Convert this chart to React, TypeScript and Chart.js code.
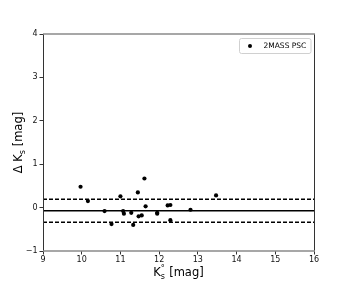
import React, { useEffect, useRef } from "react";
import { Chart, registerables } from "chart.js";

Chart.register(...registerables);

const kMag = [9.97, 10.16, 10.59, 10.77, 11.0, 11.07, 11.09, 11.28, 11.33, 11.45, 11.47, 11.55, 11.62, 11.65, 11.95, 11.95, 12.22, 12.29, 12.29, 12.81, 13.47];
const deltaK = [0.48, 0.15, -0.08, -0.38, 0.26, -0.08, -0.14, -0.12, -0.4, 0.35, -0.2, -0.18, 0.67, 0.03, -0.12, -0.14, 0.05, 0.06, -0.29, -0.05, 0.28];
const meanOffset = -0.075;
const upperBound = 0.195;
const lowerBound = -0.34;
const xRange = [9, 16];
const yRange = [-1, 4];
const legendLabel = "2MASS PSC";

const FONT = "'DejaVu Sans', sans-serif";

const decorPlugin = {
  id: "decor",
  afterDraw(chart: any) {
    const { ctx, chartArea } = chart;
    const { left, right, top, bottom } = chartArea;
    ctx.save();
    // frame
    ctx.strokeStyle = "#333";
    ctx.lineWidth = 1;
    ctx.beginPath();
    ctx.moveTo(Math.round(left) + 0.5, top);
    ctx.lineTo(Math.round(left) + 0.5, bottom);
    ctx.moveTo(Math.round(right) + 0.5, top);
    ctx.lineTo(Math.round(right) + 0.5, bottom);
    ctx.stroke();
    ctx.strokeStyle = "#8a8a8a";
    ctx.lineWidth = 1.5;
    ctx.beginPath();
    ctx.moveTo(left, top);
    ctx.lineTo(right + 1, top);
    ctx.moveTo(left, bottom);
    ctx.lineTo(right + 1, bottom);
    ctx.stroke();

    // legend
    const lx = 239.5, ly = 38.5, lw = 71.5, lh = 15;
    ctx.fillStyle = "rgba(255,255,255,0.8)";
    ctx.strokeStyle = "#d0d0d0";
    ctx.lineWidth = 1;
    ctx.beginPath();
    (ctx as any).roundRect(lx, ly, lw, lh, 2);
    ctx.fill();
    ctx.stroke();
    ctx.fillStyle = "#000";
    ctx.beginPath();
    ctx.arc(250, ly + lh / 2, 2, 0, Math.PI * 2);
    ctx.fill();
    ctx.font = `7.5px ${FONT}`;
    ctx.textBaseline = "middle";
    ctx.textAlign = "left";
    ctx.fillText(legendLabel, 263.5, ly + lh / 2 + 0.5);

    // x title: K (sup °, sub s) [mag]
    const big = `11.5px ${FONT}`;
    const small = `8px ${FONT}`;
    ctx.font = big;
    const wK = ctx.measureText("K").width;
    const wRest = ctx.measureText(" [mag]").width;
    ctx.font = small;
    const wS = ctx.measureText("s").width;
    const total = wK + wS + 0.5 + wRest;
    const cx = (left + right) / 2;
    let x0 = cx - total / 2;
    const baseY = 276;
    ctx.textBaseline = "alphabetic";
    ctx.font = big;
    ctx.fillText("K", x0, baseY);
    ctx.font = small;
    ctx.fillText("s", x0 + wK, baseY + 2.5);
    ctx.fillText("°", x0 + wK, baseY - 5);
    ctx.font = big;
    ctx.fillText(" [mag]", x0 + wK + wS + 0.5, baseY);

    // y title rotated: Δ K_s [mag]
    ctx.font = big;
    const wA = ctx.measureText("Δ K").width;
    const wB = ctx.measureText(" [mag]").width;
    ctx.font = small;
    const wS2 = ctx.measureText("s").width;
    const totY = wA + wS2 + wB;
    const cy = (top + bottom) / 2;
    ctx.translate(22, cy);
    ctx.rotate(-Math.PI / 2);
    let yx = -totY / 2;
    ctx.font = big;
    ctx.fillText("Δ K", yx, 0);
    ctx.font = small;
    ctx.fillText("s", yx + wA, 2.5);
    ctx.font = big;
    ctx.fillText(" [mag]", yx + wA + wS2, 0);
    ctx.restore();
  },
};

function hline(v: number, dashed: boolean) {
  return {
    type: "line" as const,
    data: [
      { x: xRange[0], y: v },
      { x: xRange[1], y: v },
    ],
    borderColor: "#000",
    borderWidth: 1.5,
    borderDash: dashed ? [4, 2] : [],
    pointRadius: 0,
    fill: false,
  };
}

export default function App() {
  const ref = useRef<HTMLCanvasElement | null>(null);
  useEffect(() => {
    document.body.style.margin = "0";
    const canvas = ref.current!;
    const chart = new Chart(canvas, {
      type: "scatter",
      data: {
        datasets: [
          {
            type: "scatter",
            label: legendLabel,
            data: kMag.map((x, i) => ({ x, y: deltaK[i] })),
            backgroundColor: "#000",
            borderColor: "#000",
            pointRadius: 2.1,
            borderWidth: 0,
            order: 0,
          } as any,
          { ...hline(upperBound, true), order: 1 },
          { ...hline(meanOffset, false), order: 1 },
          { ...hline(lowerBound, true), order: 1 },
        ],
      },
      options: {
        animation: false,
        responsive: false,
        layout: { padding: { left: 0, top: 34, right: 35, bottom: 0 } },
        plugins: {
          legend: { display: false },
          tooltip: { enabled: false },
        },
        scales: {
          x: {
            type: "linear",
            min: xRange[0],
            max: xRange[1],
            afterFit: (s: any) => {
              s.height = 31;
            },
            ticks: {
              stepSize: 1,
              color: "#111",
              font: { family: FONT, size: 8 },
              padding: 1,
              maxRotation: 0,
            },
            grid: {
              drawOnChartArea: false,
              drawTicks: true,
              tickLength: 3.5,
              color: "#333",
            },
            border: { display: false },
          },
          y: {
            type: "linear",
            min: yRange[0],
            max: yRange[1],
            afterFit: (s: any) => {
              s.width = 43;
            },
            ticks: {
              stepSize: 1,
              color: "#111",
              font: { family: FONT, size: 8 },
              padding: 2,
              callback: (v: any) => (Number(v) < 0 ? "\u2212" + Math.abs(Number(v)) : String(v)),
            },
            grid: {
              drawOnChartArea: false,
              drawTicks: true,
              tickLength: 3.5,
              color: "#333",
            },
            border: { display: false },
          },
        },
      },
      plugins: [decorPlugin],
    });
    return () => chart.destroy();
  }, []);
  return (
    <div style={{ position: "fixed", left: 0, top: 0, width: 349, height: 282, background: "#fff" }}>
      <canvas ref={ref} width={349} height={282} style={{ width: 349, height: 282, display: "block" }} />
    </div>
  );
}
